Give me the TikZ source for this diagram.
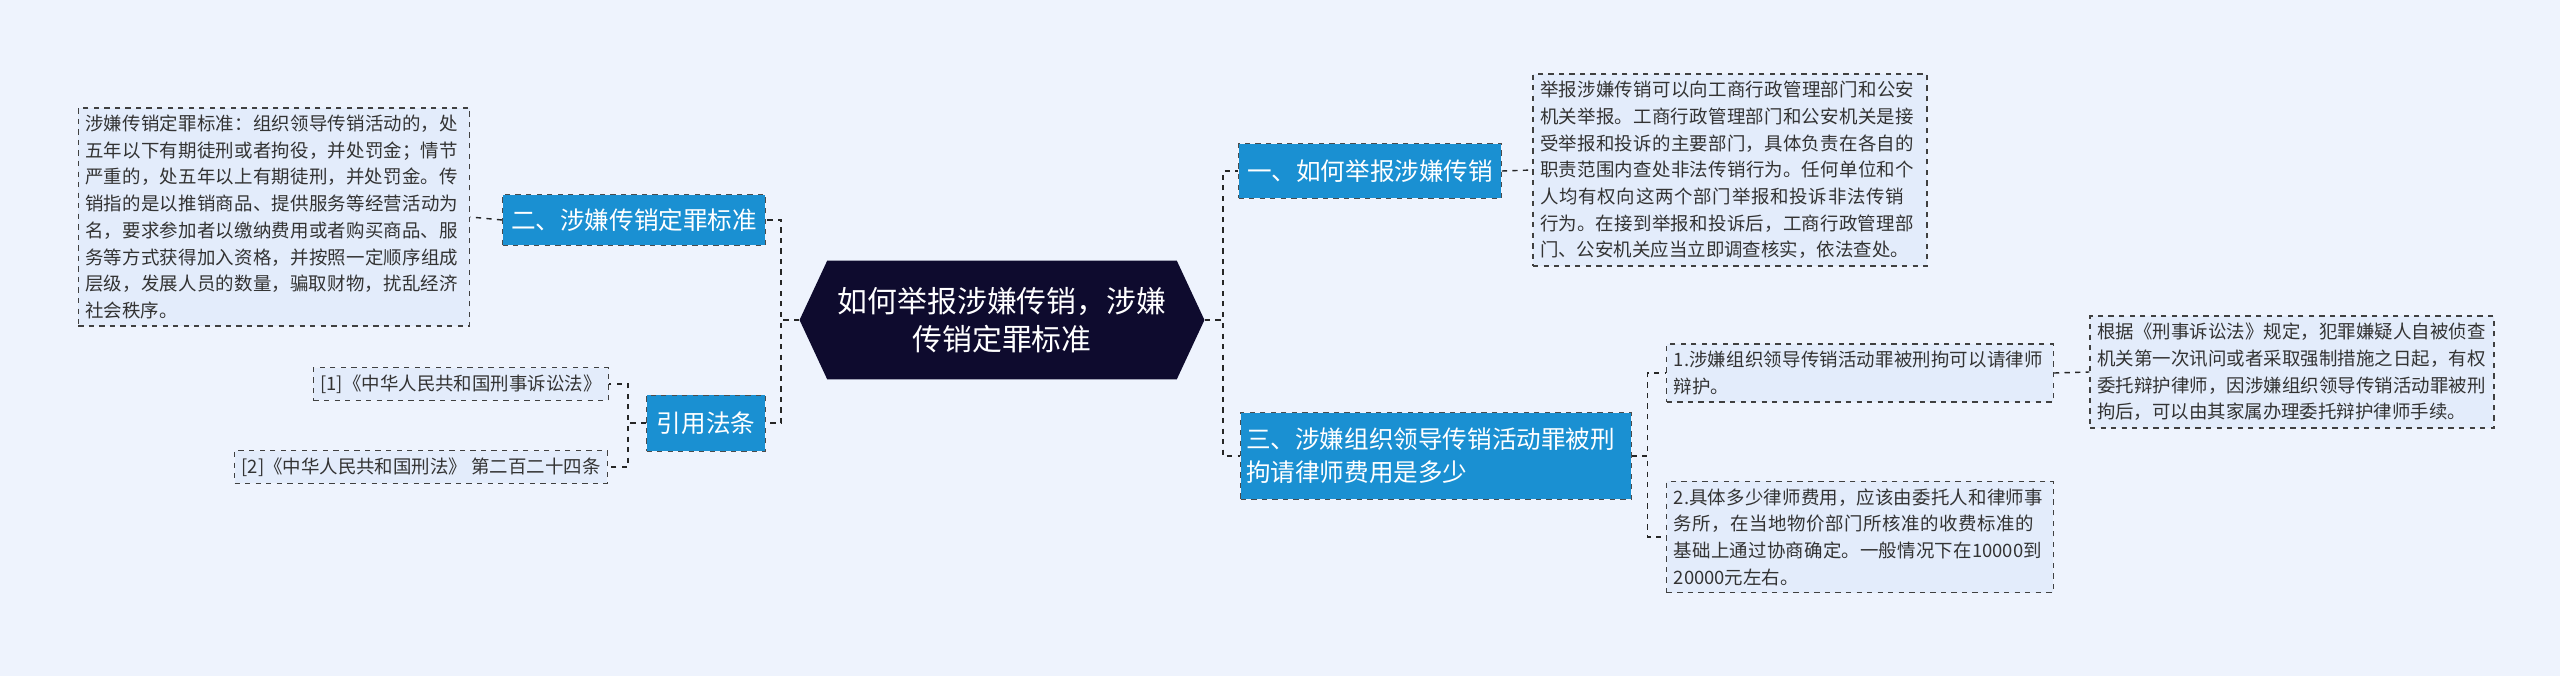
\documentclass[tikz,border=0pt]{standalone}
\usepackage{fontspec}
\setmainfont{Noto Sans CJK SC}
\XeTeXlinebreaklocale "zh"
\XeTeXlinebreakskip=0pt plus 1pt
\usetikzlibrary{shapes.symbols}
\definecolor{bgcol}{HTML}{EEF3FD}
\definecolor{rootcol}{HTML}{0E0B2E}
\definecolor{maincol}{HTML}{1A90D2}
\definecolor{leafcol}{HTML}{E3ECFB}
\begin{document}
\begin{tikzpicture}
      [x=0.02cm,y=-0.02cm,
      root/.style={signal,signal to=west and east,signal pointer angle=130,fill=rootcol,text=white,
        font=\fontsize{17pt}{22pt}\selectfont,align=center,minimum width=8.1cm,minimum height=2.38cm,inner sep=0pt},
      mainbox/.style={rectangle,fill=maincol,draw=black!70,dashed,text=white,
        font=\fontsize{14pt}{19pt}\selectfont,inner sep=3pt},
      leafbox/.style={rectangle,fill=leafcol,draw=black!75,dashed,thick,text=black!80,
        font=\fontsize{10.5pt}{15.2pt}\selectfont,align=left,inner sep=4pt},
      link/.style={draw=black!85,dashed,thick},
      ]
      \fill[bgcol] (0,0) rectangle (2560,676);
      \useasboundingbox (0,0) rectangle (2560,676);

      \node[root] (root) at (1002,320) {如何举报涉嫌传销，涉嫌\\传销定罪标准};

      % right side
      \node[mainbox,minimum width=5.26cm,minimum height=1.1cm] (report) at (1370,171) {一、如何举报涉嫌传销};
      \node[leafbox,text width=7.6cm] (reporttxt) at (1730,170) {举报涉嫌传销可以向工商行政管理部门和公安机关举报。工商行政管理部门和公安机关是接受举报和投诉的主要部门，具体负责在各自的职责范围内查处非法传销行为。任何单位和个人均有权向这两个部门举报和投诉非法传销行为。在接到举报和投诉后，工商行政管理部门、公安机关应当立即调查核实，依法查处。};
      \node[mainbox,align=left,text width=7.6cm,minimum height=1.74cm] (lawyer) at (1436,456) {三、涉嫌组织领导传销活动罪被刑\\拘请律师费用是多少};
      \node[leafbox,text width=7.45cm] (item1) at (1860,373) {1.涉嫌组织领导传销活动罪被刑拘可以请律师辩护。};
      \node[leafbox,text width=7.8cm] (item1txt) at (2292,372) {根据《刑事诉讼法》规定，犯罪嫌疑人自被侦查机关第一次讯问或者采取强制措施之日起，有权委托辩护律师，因涉嫌组织领导传销活动罪被刑拘后，可以由其家属办理委托辩护律师手续。};
      \node[leafbox,text width=7.45cm] (item2) at (1860,537) {2.具体多少律师费用，应该由委托人和律师事务所，在当地物价部门所核准的收费标准的基础上通过协商确定。一般情况下在10000到20000元左右。};

      % left side
      \node[mainbox,minimum width=5.26cm,minimum height=1.02cm] (crime) at (634,220) {二、涉嫌传销定罪标准};
      \node[leafbox,text width=7.55cm] (crimetxt) at (274,217) {涉嫌传销定罪标准：组织领导传销活动的，处五年以下有期徒刑或者拘役，并处罚金；情节严重的，处五年以上有期徒刑，并处罚金。传销指的是以推销商品、提供服务等经营活动为名，要求参加者以缴纳费用或者购买商品、服务等方式获得加入资格，并按照一定顺序组成层级，发展人员的数量，骗取财物，扰乱经济社会秩序。};
      \node[mainbox,minimum width=2.38cm,minimum height=1.12cm] (laws) at (706,423) {引用法条};
      \node[leafbox] (law1) at (461,384) {[1]《中华人民共和国刑事诉讼法》};
      \node[leafbox] (law2) at (421,467) {[2]《中华人民共和国刑法》 第二百二十四条};

      % connectors
      \draw[link] (root.east) -- ++(18,0) |- (report.west);
      \draw[link] (root.east) -- ++(18,0) |- (lawyer.west);
      \draw[link] (root.west) -- ++(-18,0) |- (crime.east);
      \draw[link] (root.west) -- ++(-18,0) |- (laws.east);
      \draw[link] (report.east) -- (reporttxt.west);
      \draw[link] (lawyer.east) -- ++(16,0) |- (item1.west);
      \draw[link] (lawyer.east) -- ++(16,0) |- (item2.west);
      \draw[link] (item1.east) -- (item1txt.west);
      \draw[link] (crime.west) -- (crimetxt.east);
      \draw[link] (laws.west) -- ++(-18,0) |- (law1.east);
      \draw[link] (laws.west) -- ++(-18,0) |- (law2.east);
\end{tikzpicture}
\end{document}
